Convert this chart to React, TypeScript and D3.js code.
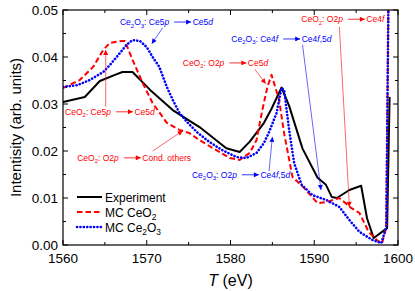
import React, { useEffect, useRef } from 'react';
import * as d3 from 'd3';

// spectra (T in eV, intensity in arb. units)
const expT = [1560, 1562.6, 1564.4, 1566.2, 1567.1, 1568.3, 1570.4, 1573.1, 1576.3, 1579.5, 1581.1, 1582.3, 1584.0, 1584.9, 1586.1, 1587.0, 1588.6, 1590.4, 1591.4, 1592.1, 1592.7, 1594.2, 1595.6, 1596.3, 1597.1, 1598.7, 1599.0];
const expI = [0.0304, 0.0315, 0.0349, 0.0362, 0.0368, 0.0368, 0.033, 0.0287, 0.0251, 0.0206, 0.0198, 0.022, 0.026, 0.029, 0.0335, 0.0296, 0.0205, 0.0143, 0.0128, 0.0102, 0.01, 0.0117, 0.0126, 0.0057, 0.0015, 0.0036, 0.0315];

const ceo2T = [1560, 1562.0, 1563.6, 1564.8, 1565.6, 1567.0, 1567.4, 1568.3, 1569.5, 1570.7, 1572.4, 1573.9, 1575.1, 1576.3, 1578.3, 1579.9, 1581.1, 1582.3, 1583.1, 1583.8, 1584.4, 1584.9, 1585.8, 1586.4, 1587.4, 1588.8, 1590.4, 1591.4, 1593.0, 1594.4, 1595.4, 1596.5, 1597.5, 1598.1, 1598.6, 1598.9];
const ceo2I = [0.0334, 0.0351, 0.0379, 0.0415, 0.043, 0.0434, 0.0434, 0.0394, 0.0345, 0.0302, 0.026, 0.0245, 0.0238, 0.0223, 0.0202, 0.0185, 0.0181, 0.0196, 0.0223, 0.0287, 0.0336, 0.0362, 0.0309, 0.0238, 0.0145, 0.0121, 0.0089, 0.0091, 0.01, 0.0079, 0.0068, 0.0028, 0.001, 0.0004, 0.0038, 0.06];

const ce2o3T = [1560, 1561.7, 1563.2, 1564.8, 1565.6, 1566.4, 1567.6, 1568.3, 1569.2, 1570.0, 1570.7, 1571.5, 1572.4, 1573.1, 1573.9, 1574.8, 1576.0, 1577.5, 1579.0, 1580.7, 1581.9, 1583.1, 1584.0, 1584.6, 1585.5, 1586.1, 1586.4, 1587.0, 1587.6, 1588.5, 1589.8, 1591.4, 1593.0, 1594.2, 1595.4, 1596.9, 1598.0, 1598.6, 1598.9];
const ce2o3I = [0.0336, 0.034, 0.0351, 0.0368, 0.0383, 0.04, 0.0426, 0.0436, 0.0434, 0.0421, 0.04, 0.0379, 0.0336, 0.0309, 0.0281, 0.0262, 0.024, 0.0219, 0.0202, 0.0187, 0.0185, 0.0196, 0.0217, 0.024, 0.0281, 0.0334, 0.033, 0.0245, 0.0174, 0.0128, 0.0106, 0.0096, 0.0081, 0.0053, 0.0028, 0.0011, 0.0004, 0.0038, 0.06];

const xTicks = [1560, 1570, 1580, 1590, 1600];
const yTicks = [0, 0.01, 0.02, 0.03, 0.04, 0.05];

// annotation text pieces: [text, kind] kind: n normal, i italic, s subscript
type Piece = [string, string];
const notes: { left: Piece[]; right: Piece[]; color: string; at: [number, number]; lead: [number, number, number, number] }[] = [
  { left: [['Ce', 'n'], ['2', 's'], ['O', 'n'], ['3', 's'], [': Ce5', 'n'], ['p', 'i']], right: [['Ce5', 'n'], ['d', 'i']], color: '#0000ff', at: [1566.8, 0.0468], lead: [1571.9, 0.0462, 1570.6, 0.0428] },
  { left: [['CeO', 'n'], ['2', 's'], [': Ce5', 'n'], ['p', 'i']], right: [['Ce5', 'n'], ['d', 'i']], color: '#ff0000', at: [1560.25, 0.0277], lead: [1565.1, 0.0294, 1565.1, 0.0415] },
  { left: [['CeO', 'n'], ['2', 's'], [': O2', 'n'], ['p', 'i']], right: [['Ce5', 'n'], ['d', 'i']], color: '#ff0000', at: [1574.3, 0.0381], lead: [1582.9, 0.0374, 1584.2, 0.0343] },
  { left: [['Ce', 'n'], ['2', 's'], ['O', 'n'], ['3', 's'], [': Ce4', 'n'], ['f', 'i']], right: [['Ce4', 'n'], ['f', 'i'], [',5', 'n'], ['d', 'i']], color: '#0000ff', at: [1580.1, 0.0432], lead: [1588.6, 0.0426, 1590.8, 0.0117] },
  { left: [['CeO', 'n'], ['2', 's'], [': O2', 'n'], ['p', 'i']], right: [['Ce4', 'n'], ['f', 'i']], color: '#ff0000', at: [1588.45, 0.0474], lead: [1593.0, 0.0464, 1594.2, 0.0081] },
  { left: [['CeO', 'n'], ['2', 's'], [': O2', 'n'], ['p', 'i']], right: [['Cond. others', 'n']], color: '#ff0000', at: [1561.7, 0.0179], lead: [1570.7, 0.02, 1574.3, 0.0243] },
  { left: [['Ce', 'n'], ['2', 's'], ['O', 'n'], ['3', 's'], [': O2', 'n'], ['p', 'i']], right: [['Ce4', 'n'], ['f', 'i'], [',5', 'n'], ['d', 'i']], color: '#0000ff', at: [1575.4, 0.0143], lead: [1584.6, 0.0157, 1585.0, 0.023] },
];

const W = 415, H = 291;
const M = { left: 63, right: 17, top: 10, bottom: 46 };
const FONT = 'Arial, "Liberation Sans", sans-serif';

const addPieces = (t: any, pieces: Piece[], sub: number) => {
  let down = false;
  pieces.forEach(([s, k]) => {
    const ts = t.append('tspan').text(s);
    if (k === 'i') ts.attr('font-style', 'italic');
    if (k === 's') {
      ts.attr('font-size', '0.7em').attr('dy', down ? 0 : sub);
      down = true;
    } else {
      ts.attr('dy', down ? -sub : 0);
      down = false;
    }
  });
};

const App = () => {
  const ref = useRef<SVGSVGElement>(null);

  useEffect(() => {
    const svg = d3.select(ref.current);
    svg.selectAll('*').remove();
    const iw = W - M.left - M.right, ih = H - M.top - M.bottom;
    const x = d3.scaleLinear().domain([1560, 1600]).range([M.left, M.left + iw]);
    const y = d3.scaleLinear().domain([0, 0.05]).range([M.top + ih, M.top]);

    const defs = svg.append('defs');
    defs.append('clipPath').attr('id', 'plotclip')
      .append('rect').attr('x', M.left).attr('y', M.top).attr('width', iw).attr('height', ih);
    ['#ff0000', '#0000ff'].forEach((c) => {
      defs.append('marker').attr('id', 'ah' + c.slice(1))
        .attr('viewBox', '0 0 10 10').attr('refX', 10).attr('refY', 5)
        .attr('markerWidth', 7).attr('markerHeight', 5).attr('markerUnits', 'userSpaceOnUse')
        .attr('orient', 'auto')
        .append('path').attr('d', 'M0,0 L10,5 L0,10 Z').attr('fill', c);
    });

    // ticks, inward on all four sides
    const g = svg.append('g').attr('stroke', '#000').attr('stroke-width', 1);
    const xMinor = d3.range(1560, 1600.1, 5);
    const yMinor = d3.range(0, 0.0501, 0.005);
    xMinor.forEach((v) => {
      const len = xTicks.includes(v) ? 5 : 3;
      g.append('line').attr('x1', x(v)).attr('x2', x(v)).attr('y1', y(0)).attr('y2', y(0) - len);
      g.append('line').attr('x1', x(v)).attr('x2', x(v)).attr('y1', y(0.05)).attr('y2', y(0.05) + len);
    });
    yMinor.forEach((v, i) => {
      const len = i % 2 === 0 ? 5 : 3;
      g.append('line').attr('y1', y(v)).attr('y2', y(v)).attr('x1', x(1560)).attr('x2', x(1560) + len);
      g.append('line').attr('y1', y(v)).attr('y2', y(v)).attr('x1', x(1600)).attr('x2', x(1600) - len);
    });

    svg.append('g').selectAll('text').data(xTicks).join('text')
      .attr('x', (d) => x(d)).attr('y', y(0) + 18).attr('text-anchor', 'middle')
      .attr('font-family', FONT).attr('font-size', 13.5).text((d) => d);
    svg.append('g').selectAll('text').data(yTicks).join('text')
      .attr('x', x(1560) - 5).attr('y', (d) => y(d) + 5).attr('text-anchor', 'end')
      .attr('font-family', FONT).attr('font-size', 13.5).text((d) => d3.format('.2f')(d));

    // curves
    const line = d3.line<[number, number]>().x((d) => x(d[0])).y((d) => y(d[1]));
    const plot = svg.append('g').attr('clip-path', 'url(#plotclip)');
    const series = [
      { T: expT, I: expI, color: '#000', dash: null, cap: 'butt' },
      { T: ceo2T, I: ceo2I, color: '#ff0000', dash: '5.5,3', cap: 'butt' },
      { T: ce2o3T, I: ce2o3I, color: '#0000ff', dash: '0.1,3.3', cap: 'round' },
    ];
    series.forEach((s) => {
      plot.append('path').datum(s.T.map((t, i) => [t, s.I[i]] as [number, number]))
        .attr('d', line).attr('fill', 'none').attr('stroke', s.color)
        .attr('stroke-width', s.cap === 'round' ? 2.6 : 2).attr('stroke-dasharray', s.dash)
        .attr('stroke-linecap', s.cap).attr('stroke-linejoin', 'round');
    });

    // annotations
    notes.forEach((n) => {
      const tx = x(n.at[0]), ty = y(n.at[1]);
      const t = svg.append('text').attr('x', tx).attr('y', ty)
        .attr('font-family', FONT).attr('font-size', 8.5).attr('fill', n.color);
      addPieces(t, n.left, 2.5);
      const w = (t.node() as SVGTextElement).getComputedTextLength();
      const ax = tx + w + 5;
      const ay = ty - 3;
      svg.append('line').attr('x1', ax).attr('x2', ax + 17).attr('y1', ay).attr('y2', ay)
        .attr('stroke', n.color).attr('stroke-width', 0.8).attr('marker-end', `url(#ah${n.color.slice(1)})`);
      const t2 = svg.append('text').attr('x', ax + 18.5).attr('y', ty)
        .attr('font-family', FONT).attr('font-size', 8.5).attr('fill', n.color);
      addPieces(t2, n.right, 2.5);
      svg.append('line').attr('x1', x(n.lead[0])).attr('y1', y(n.lead[1]))
        .attr('x2', x(n.lead[2])).attr('y2', y(n.lead[3]))
        .attr('stroke', n.color).attr('stroke-width', 0.6).attr('marker-end', `url(#ah${n.color.slice(1)})`);
    });

    // legend
    const legend = [
      { label: [['Experiment', 'n']] as Piece[], color: '#000', dash: null, cap: 'butt' },
      { label: [['MC CeO', 'n'], ['2', 's']] as Piece[], color: '#ff0000', dash: '5.5,3', cap: 'butt' },
      { label: [['MC Ce', 'n'], ['2', 's'], ['O', 'n'], ['3', 's']] as Piece[], color: '#0000ff', dash: '0.1,3.3', cap: 'round' },
    ];
    legend.forEach((l, i) => {
      const ly = 197 + i * 15;
      svg.append('line').attr('x1', 77).attr('x2', 102).attr('y1', ly).attr('y2', ly)
        .attr('stroke', l.color).attr('stroke-width', l.cap === 'round' ? 2.6 : 2)
        .attr('stroke-dasharray', l.dash).attr('stroke-linecap', l.cap);
      const t = svg.append('text').attr('x', 105).attr('y', ly + 4.5)
        .attr('font-family', FONT).attr('font-size', 12).attr('fill', '#000');
      addPieces(t, l.label, 3.5);
    });

    // frame
    svg.append('rect').attr('x', M.left).attr('y', M.top).attr('width', iw).attr('height', ih)
      .attr('fill', 'none').attr('stroke', '#000').attr('stroke-width', 1.2);

    // axis titles
    const xt = svg.append('text').attr('x', x(1580)).attr('y', 286).attr('text-anchor', 'middle')
      .attr('font-family', FONT).attr('font-size', 16);
    xt.append('tspan').attr('font-style', 'italic').text('T');
    xt.append('tspan').text(' (eV)');
    svg.append('text').attr('transform', `translate(21,${y(0.025)}) rotate(-90)`)
      .attr('text-anchor', 'middle').attr('font-family', FONT).attr('font-size', 15)
      .text('Intentisity (arb. units)');
  }, []);

  return (
    <svg ref={ref} width={W} height={H} style={{ position: 'absolute', left: 0, top: 0, background: '#fff' }} />
  );
};

export default App;
